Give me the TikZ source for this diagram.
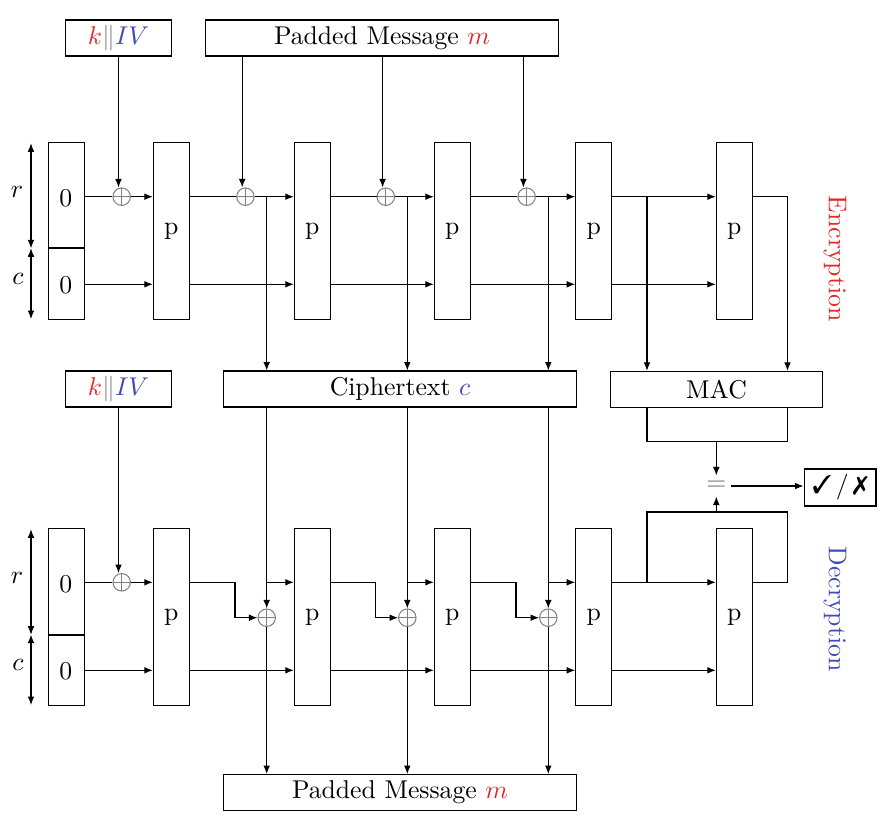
\documentclass[tikz,border=0pt]{standalone}
\usepackage{pifont}
\usetikzlibrary{arrows.meta,calc}
\definecolor{kred}{RGB}{225,40,40}
\definecolor{kblue}{RGB}{65,75,180}
\begin{document}
\begin{tikzpicture}[x=0.3891pt,y=-0.3891pt,line width=0.4pt,
  arr/.style={-{Latex[length=3.3pt,width=2.6pt]}},
  dbl/.style={{Latex[length=3.3pt,width=2.6pt]}-{Latex[length=3.3pt,width=2.6pt]}},
  tbox/.style={draw,inner sep=0pt,minimum height=14pt},
  pbox/.style={draw,inner sep=0pt,minimum width=14pt,minimum height=68.5pt},
  xor/.style={circle,draw=gray,inner sep=0pt,minimum size=6.8pt,
    path picture={\draw[gray] (path picture bounding box.north) -- (path picture bounding box.south)
      (path picture bounding box.west) -- (path picture bounding box.east);}}
]
\useasboundingbox (0,0) rectangle (888,824);

% ---------------- Encryption ----------------
\node[tbox,minimum width=41.6pt] (kiv1) at (118.5,38) {{\color{kred}$k$}{\color{gray}$\|$}{\color{kblue}$IV$}};
\node[tbox,minimum width=137pt] (pm1) at (382,38) {Padded Message {\color{kred}$m$}};

\node[pbox] (s1) at (66.3,231) {};
\node (s1r) at (65.7,198) {0};
\node (s1c) at (65.7,285) {0};
\coordinate (sd1a) at (48.3,248.3);
\coordinate (sd1b) at (84.3,248.3);
\draw[line width=0.9pt] (sd1a) -- (sd1b);

\coordinate (ra1) at (31,143.3);
\coordinate (rb1) at (31,248.3);
\coordinate (rc1) at (31,319);
\draw[dbl] (ra1) -- (rb1);
\draw[dbl] (rb1) -- (rc1);
\node (lr1) at (17,192) {$r$};
\node (lc1) at (18,279) {$c$};

\foreach \n/\xx in {1/171.3,2/312.3,3/452.3,4/593.7,5/734.3}
  \node[pbox] (e\n) at (\xx,231) {p};

\coordinate (erl) at (0,196.7);
\coordinate (ecl) at (0,284.3);

\node[xor] (ex1) at (121.7,196.7) {};
\node[xor] (ex2) at (245.4,196.7) {};
\node[xor] (ex3) at (385.8,196.7) {};
\node[xor] (ex4) at (526.6,196.7) {};

\node[tbox,minimum width=137pt] (ct) at (400,389) {Ciphertext {\color{kblue}$c$}};
\node[tbox,minimum width=82.3pt] (mac) at (716.5,389.3) {MAC};

\draw[arr] (kiv1.south) -- (kiv1.south |- ex1.north);
\foreach \i in {2,3,4}
  \draw[arr] ($(pm1.south -| ex\i)+(-3.2,0)$) -- ($(ex\i.north)+(-3.2,0)$);

\draw (s1.east |- erl) -- (ex1.west);
\draw[arr] (ex1.east) -- (e1.west |- erl);
\draw[arr] (s1.east |- ecl) -- (e1.west |- ecl);

\foreach \a/\b/\x in {1/2/2,2/3/3,3/4/4} {
  \draw (e\a.east |- erl) -- (ex\x.west);
  \draw[arr] (ex\x.east) -- (e\b.west |- erl);
  \draw[arr] (e\a.east |- ecl) -- (e\b.west |- ecl);
}
\coordinate (t2) at (266.7,196.7);
\coordinate (t3) at (407.3,196.7);
\coordinate (t4) at (548.3,196.7);
\foreach \t in {t2,t3,t4}
  \draw[arr] (\t) -- (\t |- ct.north);

\draw[arr] (e4.east |- erl) -- (e5.west |- erl);
\draw[arr] (e4.east |- ecl) -- (e5.west |- ecl);
\coordinate (et) at (647,196.7);
\draw[arr] (et) -- (et |- mac.north);
\coordinate (etr) at (787.5,196.7);
\draw[arr] (e5.east |- erl) -- (etr) -- (etr |- mac.north);

\node[rotate=-90,text=kred] (enc) at (835,258.7) {Encryption};

% ---------------- Decryption ----------------
\node[tbox,minimum width=41.6pt] (kiv2) at (118.5,389) {{\color{kred}$k$}{\color{gray}$\|$}{\color{kblue}$IV$}};
\node[tbox,minimum width=137pt] (pm2) at (400,792.5) {Padded Message {\color{kred}$m$}};

\node[pbox] (s2) at (66.3,617) {};
\node (s2r) at (65.7,584) {0};
\node (s2c) at (65.7,671) {0};
\coordinate (sd2a) at (48.3,634.7);
\coordinate (sd2b) at (84.3,634.7);
\draw[line width=0.9pt] (sd2a) -- (sd2b);

\coordinate (ra2) at (31,529.3);
\coordinate (rb2) at (31,634.7);
\coordinate (rc2) at (31,705);
\draw[dbl] (ra2) -- (rb2);
\draw[dbl] (rb2) -- (rc2);
\node (lr2) at (17,578) {$r$};
\node (lc2) at (18,665) {$c$};

\foreach \n/\xx in {1/171.3,2/312.3,3/452.3,4/593.7,5/734.3}
  \node[pbox] (d\n) at (\xx,617) {p};

\coordinate (drl) at (0,582.3);
\coordinate (dcl) at (0,670.3);

\node[xor] (dx1) at (121.7,582.3) {};
\node[xor] (dx2) at (266.7,617.7) {};
\node[xor] (dx3) at (407.3,617.7) {};
\node[xor] (dx4) at (548.3,617.7) {};

\draw[arr] (kiv2.south) -- (kiv2.south |- dx1.north);
\draw (s2.east |- drl) -- (dx1.west);
\draw[arr] (dx1.east) -- (d1.west |- drl);
\draw[arr] (s2.east |- dcl) -- (d1.west |- dcl);

\coordinate (j2) at (235,617.7);
\coordinate (j3) at (375.5,617.7);
\coordinate (j4) at (516,617.7);
\foreach \a/\b in {1/2,2/3,3/4} {
  \draw[arr] (ct.south -| dx\b) -- (dx\b.north);
  \draw[arr] (dx\b.south) -- (dx\b.south |- pm2.north);
  \draw[arr] (d\a.east |- drl) -| (j\b) -- (dx\b.west);
  \draw[arr] (dx\b |- drl) -- (d\b.west |- drl);
  \draw[arr] (d\a.east |- dcl) -- (d\b.west |- dcl);
}

\draw[arr] (d4.east |- drl) -- (d5.west |- drl);
\draw[arr] (d4.east |- dcl) -- (d5.west |- dcl);

\node[inner sep=0pt,minimum width=11.2pt,minimum height=7.8pt,text=gray!90!black] (eq) at (716.3,486) {$=$};
\node[tbox,minimum width=28pt,minimum height=14.4pt] (chk) at (840,487.5) {\ding{51}\,/\,\ding{55}};

\coordinate (dt) at (647,582.3);
\coordinate (dtr) at (787.5,512);
\draw (dt) |- (dtr) |- (d5.east |- drl);
\draw[arr] (eq |- dtr) -- (eq.south);

\coordinate (ml) at (647,441.5);
\coordinate (mr) at (787.5,441.5);
\draw (mac.south -| ml) |- (mr) -- (mac.south -| mr);
\draw[arr] (eq |- ml) -- (eq.north);
\draw[arr] (eq.east) -- (chk.west |- eq.east);

\node[rotate=-90,text=kblue] (decl) at (835,609) {Decryption};
\end{tikzpicture}
\end{document}
